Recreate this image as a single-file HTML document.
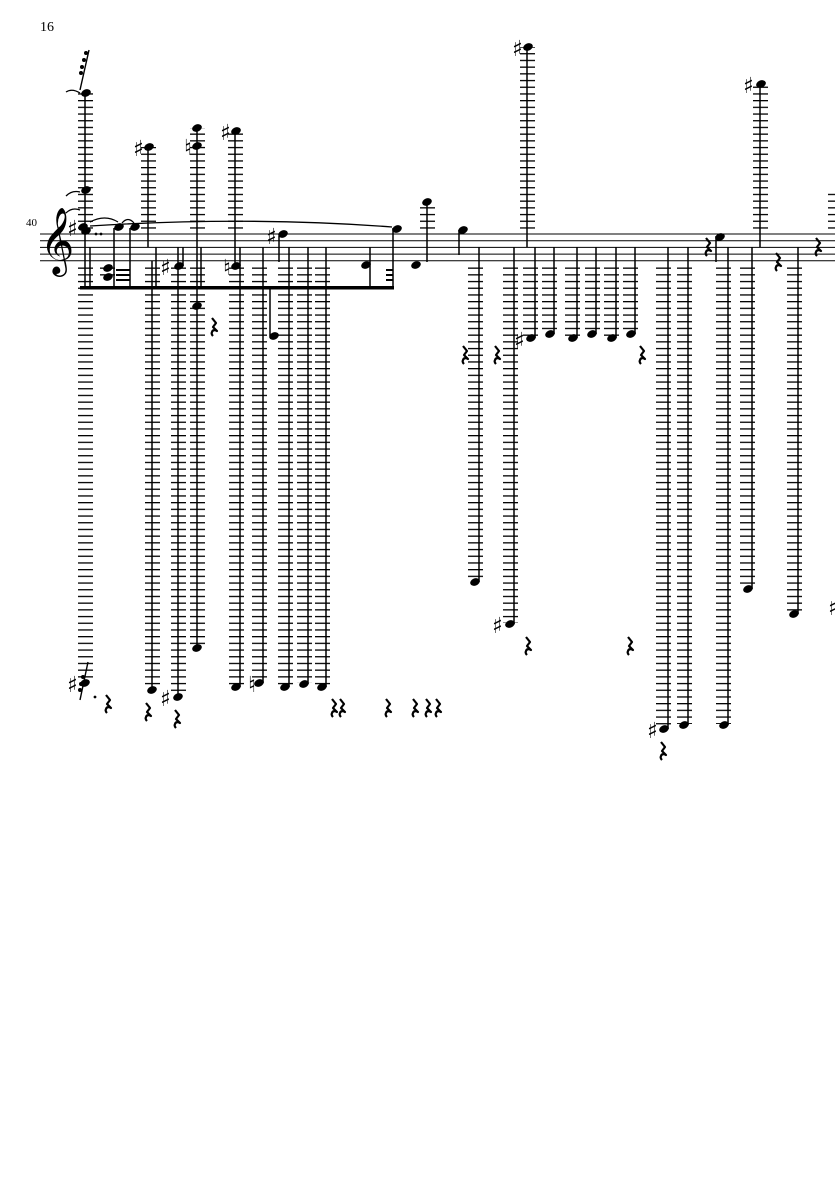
<!DOCTYPE html>
<html><head><style>body{margin:0;background:#fff}svg{display:block}</style></head><body>
<svg width="835" height="1181" viewBox="0 0 835 1181" xmlns="http://www.w3.org/2000/svg" font-family="Liberation Serif, serif">
<defs>
<pattern id="L" x="0" y="234" width="835" height="6.7" patternUnits="userSpaceOnUse"><rect x="0" y="-0.2" width="835" height="1.5" fill="#000"/></pattern>
<path id="r" d="M-1,-8 L3,-3 L0,1 L4,5 Q0,3 -1,6 Q-2,8 0,10" fill="none" stroke="#000" stroke-width="2.2" stroke-linejoin="round"/>
<ellipse id="n" rx="5" ry="3.6" transform="rotate(-22)" fill="#000"/>
</defs>
<text x="40" y="31" font-size="14">16</text>
<text x="26" y="226" font-size="11">40</text>
<g stroke="#000" stroke-width="1">
<line x1="40" y1="234" x2="835" y2="234"/><line x1="40" y1="240.7" x2="835" y2="240.7"/><line x1="40" y1="247.4" x2="835" y2="247.4"/><line x1="40" y1="254.1" x2="835" y2="254.1"/><line x1="40" y1="260.8" x2="835" y2="260.8"/>
</g>
<text x="40" y="260" font-family="DejaVu Sans, sans-serif" font-size="58">𝄞</text>
<g fill="url(#L)">
<rect x="78" y="93" width="15" height="136"/>
<rect x="141" y="147" width="15" height="82"/>
<rect x="190" y="128" width="15" height="101"/>
<rect x="228" y="131" width="15" height="98"/>
<rect x="520" y="47" width="15" height="182"/>
<rect x="753" y="84" width="15" height="145"/>
<rect x="420" y="202" width="15" height="27"/>
<rect x="828" y="190" width="10" height="39"/>
</g>
<g fill="url(#L)">
<rect x="78" y="266" width="15" height="416"/>
<rect x="100" y="266" width="15" height="14"/>
<rect x="145" y="266" width="15" height="423"/>
<rect x="171" y="266" width="15" height="430"/>
<rect x="190" y="266" width="15" height="381"/>
<rect x="229" y="266" width="15" height="420"/>
<rect x="252" y="266" width="15" height="416"/>
<rect x="278" y="266" width="15" height="420"/>
<rect x="297" y="266" width="15" height="417"/>
<rect x="315" y="266" width="15" height="420"/>
<rect x="468" y="266" width="15" height="315"/>
<rect x="503" y="266" width="15" height="357"/>
<rect x="523" y="266" width="15" height="71"/>
<rect x="542" y="266" width="15" height="67"/>
<rect x="565" y="266" width="15" height="71"/>
<rect x="585" y="266" width="15" height="67"/>
<rect x="604" y="266" width="15" height="71"/>
<rect x="623" y="266" width="15" height="67"/>
<rect x="656" y="266" width="15" height="462"/>
<rect x="677" y="266" width="15" height="458"/>
<rect x="716" y="266" width="15" height="458"/>
<rect x="740" y="266" width="15" height="322"/>
<rect x="787" y="266" width="15" height="347"/>
</g>
<g stroke="#000" stroke-width="1.5">
<line x1="85" y1="93" x2="85" y2="289"/><line x1="90" y1="247" x2="90" y2="289"/>
<line x1="114" y1="228" x2="114" y2="289"/><line x1="130" y1="228" x2="130" y2="289"/>
<line x1="148" y1="147" x2="148" y2="247"/><line x1="152" y1="261" x2="152" y2="690"/>
<line x1="156" y1="247" x2="156" y2="289"/>
<line x1="178" y1="247" x2="178" y2="697"/><line x1="183" y1="247" x2="183" y2="266"/>
<line x1="197" y1="128" x2="197" y2="648"/><line x1="201" y1="247" x2="201" y2="289"/>
<line x1="235" y1="131" x2="235" y2="266"/><line x1="240" y1="247" x2="240" y2="687"/>
<line x1="263" y1="247" x2="263" y2="683"/><line x1="279" y1="236" x2="279" y2="262"/>
<line x1="270" y1="289" x2="270" y2="336"/>
<line x1="289" y1="247" x2="289" y2="687"/><line x1="308" y1="247" x2="308" y2="684"/><line x1="326" y1="247" x2="326" y2="687"/>
<line x1="370" y1="247" x2="370" y2="289"/><line x1="393" y1="228" x2="393" y2="289"/>
<line x1="427" y1="202" x2="427" y2="262"/><line x1="459" y1="230" x2="459" y2="255"/>
<line x1="479" y1="247" x2="479" y2="582"/><line x1="514" y1="247" x2="514" y2="624"/>
<line x1="527" y1="47" x2="527" y2="247"/>
<line x1="535" y1="247" x2="535" y2="338"/><line x1="554" y1="247" x2="554" y2="334"/>
<line x1="577" y1="247" x2="577" y2="338"/><line x1="596" y1="247" x2="596" y2="334"/>
<line x1="616" y1="247" x2="616" y2="338"/><line x1="635" y1="247" x2="635" y2="334"/>
<line x1="668" y1="247" x2="668" y2="729"/><line x1="688" y1="247" x2="688" y2="725"/>
<line x1="716" y1="236" x2="716" y2="262"/><line x1="728" y1="247" x2="728" y2="725"/>
<line x1="760" y1="84" x2="760" y2="247"/><line x1="752" y1="247" x2="752" y2="589"/>
<line x1="798" y1="247" x2="798" y2="614"/>
</g>
<rect x="80" y="286" width="314" height="3.5" fill="#000"/>
<g fill="#000"><rect x="116" y="269" width="14" height="2"/><rect x="116" y="274" width="14" height="2"/><rect x="116" y="279" width="14" height="2"/><rect x="386" y="269" width="7" height="2"/><rect x="386" y="274" width="7" height="2"/><rect x="386" y="279" width="7" height="2"/></g>
<g>
<use href="#n" x="86" y="93"/><use href="#n" x="86" y="190"/><use href="#n" x="83" y="227"/><use href="#n" x="86" y="231"/>
<use href="#n" x="119" y="227"/><use href="#n" x="135" y="227"/>
<use href="#n" x="108" y="268"/><use href="#n" x="108" y="277"/>
<use href="#n" x="149" y="147"/><use href="#n" x="197" y="128"/><use href="#n" x="197" y="146"/><use href="#n" x="236" y="131"/>
<use href="#n" x="179" y="266"/><use href="#n" x="236" y="266"/><use href="#n" x="197" y="306"/>
<use href="#n" x="283" y="234"/><use href="#n" x="274" y="336"/>
<use href="#n" x="366" y="265"/><use href="#n" x="397" y="229"/><use href="#n" x="416" y="265"/><use href="#n" x="427" y="202"/><use href="#n" x="463" y="230"/>
<use href="#n" x="528" y="47"/><use href="#n" x="761" y="84"/><use href="#n" x="720" y="237"/>
<use href="#n" x="85" y="683"/><use href="#n" x="152" y="690"/><use href="#n" x="178" y="697"/><use href="#n" x="197" y="648"/>
<use href="#n" x="236" y="687"/><use href="#n" x="259" y="683"/><use href="#n" x="285" y="687"/><use href="#n" x="304" y="684"/><use href="#n" x="322" y="687"/>
<use href="#n" x="475" y="582"/><use href="#n" x="510" y="624"/>
<use href="#n" x="531" y="338"/><use href="#n" x="550" y="334"/><use href="#n" x="573" y="338"/><use href="#n" x="592" y="334"/><use href="#n" x="612" y="338"/><use href="#n" x="631" y="334"/>
<use href="#n" x="664" y="729"/><use href="#n" x="684" y="725"/><use href="#n" x="724" y="725"/><use href="#n" x="748" y="589"/><use href="#n" x="794" y="614"/>
</g>
<g font-family="DejaVu Sans, sans-serif" font-size="22" fill="#000">
<text x="67" y="236">♯</text><text x="133" y="156">♯</text><text x="220" y="140">♯</text><text x="512" y="56">♯</text><text x="743" y="93">♯</text>
<text x="160" y="275">♯</text><text x="266" y="244">♯</text><text x="67" y="692">♯</text><text x="160" y="706">♯</text>
<text x="514" y="348">♯</text><text x="492" y="633">♯</text><text x="647" y="738">♯</text><text x="828" y="615">♯</text>
<text x="184" y="155">♮</text><text x="223" y="275">♮</text><text x="248" y="692">♮</text>
</g>
<g fill="#000"><circle cx="96" cy="234" r="1.4"/><circle cx="101" cy="234" r="1.4"/><circle cx="95" cy="697" r="1.4"/></g>
<g fill="none" stroke="#000" stroke-width="1.3">
<path d="M66,92 Q72,88 80,93"/><path d="M66,196 Q72,190 80,192"/><path d="M66,213 Q72,207 80,210"/>
<path d="M90,222 Q105,214 118,222"/><path d="M122,223 Q128,216 134,223"/>
<path d="M90,226 Q250,216 392,227"/>
<path d="M80,90 L89,50" stroke-width="1.4"/><path d="M80,700 L88,662" stroke-width="1.4"/>
</g>
<g fill="#000"><circle cx="86" cy="53" r="2"/><circle cx="84" cy="60" r="2"/><circle cx="82" cy="67" r="2"/><circle cx="81" cy="73" r="2"/><circle cx="80" cy="690" r="2"/><circle cx="81" cy="684" r="2"/><circle cx="83" cy="677" r="2"/></g>
<g>
<use href="#r" x="107" y="703"/><use href="#r" x="147" y="711"/><use href="#r" x="176" y="718"/><use href="#r" x="213" y="326"/>
<use href="#r" x="333" y="707"/><use href="#r" x="341" y="707"/><use href="#r" x="387" y="707"/><use href="#r" x="414" y="707"/><use href="#r" x="427" y="707"/><use href="#r" x="437" y="707"/>
<use href="#r" x="464" y="354"/><use href="#r" x="496" y="354"/><use href="#r" x="527" y="645"/><use href="#r" x="629" y="645"/><use href="#r" x="641" y="354"/><use href="#r" x="662" y="750"/>
<use href="#r" x="707" y="246"/><use href="#r" x="777" y="261"/><use href="#r" x="817" y="246"/>
</g>
</svg>
</body></html>
